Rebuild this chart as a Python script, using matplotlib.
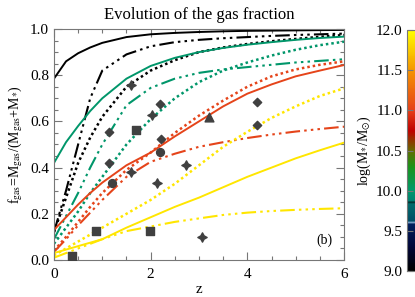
import matplotlib
matplotlib.use("Agg")
import matplotlib.pyplot as plt
import numpy as np
from matplotlib.colors import LinearSegmentedColormap, Normalize
from matplotlib.ticker import MultipleLocator
import matplotlib.cm as cm

plt.rcParams['font.family'] = ['Liberation Serif', 'DejaVu Serif']
plt.rcParams['mathtext.fontset'] = 'stix'

# redshift grid of the model curves
z_curve = [0, 0.25, 0.5, 0.75, 1.0, 1.5, 2.0, 2.5, 3.0, 3.5, 4.0, 4.5, 5.0, 5.5, 6.0]

# log(M*/Msun) = 9
blk_solid = [0.785, 0.86, 0.895, 0.92, 0.94, 0.965, 0.977, 0.983, 0.987, 0.99, 0.992, 0.993, 0.994, 0.995, 0.996]
blk_dd = [0.12, 0.30, 0.50, 0.70, 0.82, 0.89, 0.925, 0.943, 0.953, 0.96, 0.965, 0.97, 0.974, 0.977, 0.98]
blk_dot = [0.12, 0.27, 0.42, 0.53, 0.62, 0.75, 0.82, 0.865, 0.90, 0.92, 0.935, 0.947, 0.957, 0.966, 0.974]
# log = 10
grn_solid = [0.42, 0.51, 0.58, 0.645, 0.70, 0.785, 0.84, 0.875, 0.90, 0.918, 0.932, 0.943, 0.953, 0.961, 0.967]
grn_dd = [0.09, 0.19, 0.29, 0.40, 0.50, 0.67, 0.745, 0.785, 0.81, 0.825, 0.835, 0.845, 0.855, 0.862, 0.869]
grn_dot = [0.07, 0.14, 0.21, 0.29, 0.36, 0.50, 0.61, 0.70, 0.77, 0.82, 0.855, 0.885, 0.91, 0.93, 0.945]
# log = 11
red_solid = [0.13, 0.185, 0.24, 0.29, 0.335, 0.41, 0.465, 0.535, 0.60, 0.665, 0.72, 0.76, 0.795, 0.82, 0.844]
red_dd = [0.035, 0.09, 0.15, 0.205, 0.26, 0.36, 0.425, 0.46, 0.49, 0.51, 0.528, 0.543, 0.556, 0.567, 0.577]
red_dot = [0.04, 0.10, 0.165, 0.23, 0.29, 0.39, 0.465, 0.55, 0.625, 0.69, 0.75, 0.795, 0.825, 0.845, 0.86]
# log = 12
yel_solid = [0.03, 0.045, 0.06, 0.075, 0.09, 0.14, 0.185, 0.23, 0.27, 0.315, 0.36, 0.40, 0.44, 0.475, 0.508]
yel_dd = [0.01, 0.03, 0.05, 0.07, 0.09, 0.125, 0.145, 0.165, 0.18, 0.195, 0.205, 0.212, 0.217, 0.221, 0.224]
yel_dot = [0.02, 0.05, 0.08, 0.11, 0.14, 0.20, 0.26, 0.33, 0.41, 0.49, 0.555, 0.615, 0.665, 0.71, 0.743]

# observations
sq_z = [0.37, 0.87, 1.70, 1.99]
sq_f = [0.017, 0.127, 0.563, 0.127]
ci_z = [1.20, 2.19]
ci_f = [0.332, 0.469]
tri_z = [3.21]
tri_f = [0.618]
dia_z = [1.14, 1.14, 2.19, 2.21, 4.21, 4.21]
dia_f = [0.555, 0.421, 0.675, 0.522, 0.685, 0.584]
star_z = [1.59, 1.59, 2.02, 2.14, 2.73, 3.06]
star_f = [0.757, 0.380, 0.628, 0.332, 0.411, 0.098]

# colour table
nodes = [(9.0, (0, 0, 0)), (9.3, (0.0, 0.02, 0.22)), (9.58, (0.0, 0.12, 0.36)),
         (9.6, (0.45, 0.6, 0.75)), (9.62, (0.0, 0.3, 0.4)), (9.83, (0.0, 0.42, 0.42)),
         (9.85, (0.0, 0.18, 0.18)), (9.87, (0.0, 0.5, 0.45)), (10.0, (0.0, 0.6, 0.42)),
         (10.3, (0.1, 0.58, 0.1)), (10.5, (0.4, 0.42, 0.0)), (10.75, (0.75, 0.0, 0.0)),
         (11.0, (0.9, 0.25, 0.1)), (11.5, (0.96, 0.58, 0.0)), (12.0, (1.0, 1.0, 0.0))]
cmap = LinearSegmentedColormap.from_list('mstar', [((v - 9.0) / 3.0, c) for v, c in nodes])
norm = Normalize(9.0, 12.0)

c_blk = 'black'
c_grn = '#00966A'
c_red = '#E5441A'
c_yel = '#FFE600'

dd = (0, (7, 2, 1.2, 2, 1.2, 2, 1.2, 2))
dot = (0, (1, 1.2))

fig = plt.figure(figsize=(4.15, 2.97), dpi=100)
ax = fig.add_axes([0.130, 0.1246, 0.699, 0.7778])

for col, s, d, o in [(c_blk, blk_solid, blk_dd, blk_dot),
                     (c_grn, grn_solid, grn_dd, grn_dot),
                     (c_red, red_solid, red_dd, red_dot),
                     (c_yel, yel_solid, yel_dd, yel_dot)]:
    ax.plot(z_curve, s, color=col, lw=1.4)
    ax.plot(z_curve, d, color=col, lw=1.5, linestyle=dd)
    ax.plot(z_curve, o, color=col, lw=1.8, linestyle=dot)

mc = '#404040'
ax.scatter(sq_z, sq_f, marker='s', s=30, color=mc, zorder=5)
ax.scatter(ci_z, ci_f, marker='o', s=32, color=mc, zorder=5)
ax.scatter(tri_z, tri_f, marker='^', s=40, color=mc, zorder=5)
ax.scatter(dia_z, dia_f, marker='D', s=18, color=mc, zorder=5)
ax.scatter(star_z, star_f, marker=(4, 1, 0), s=45, color=mc, zorder=5)

ax.set_xlim(0, 6)
ax.set_ylim(0, 1.0)
ax.xaxis.set_major_locator(MultipleLocator(2))
ax.xaxis.set_minor_locator(MultipleLocator(0.5))
ax.yaxis.set_major_locator(MultipleLocator(0.2))
ax.yaxis.set_minor_locator(MultipleLocator(0.05))
ax.yaxis.set_major_formatter(plt.FormatStrFormatter('%.1f'))
ax.tick_params(which='both', direction='in', top=True, right=True, labelsize=11,
               color='#777777', width=0.8)
ax.tick_params(which='major', length=6)
ax.tick_params(which='minor', length=3)
ax.tick_params(axis='x', pad=6)
for sp in ax.spines.values():
    sp.set_color('#777777')
    sp.set_linewidth(0.8)

ax.set_title('Evolution of the gas fraction', fontsize=12, pad=7)
ax.set_xlabel('z', fontsize=11, labelpad=1)
ax.set_ylabel(r'f$_{\rm gas}$=M$_{\rm gas}$/(M$_{\rm gas}$+M$_{*}$)', fontsize=10, labelpad=4)
ax.text(5.6, 0.085, '(b)', fontsize=10, ha='center', va='center')

cax = fig.add_axes([0.981, 0.0875, 0.04, 0.811])
cb = fig.colorbar(cm.ScalarMappable(norm=norm, cmap=cmap), cax=cax)
cb.set_ticks([9.0, 9.5, 10.0, 10.5, 11.0, 11.5, 12.0])
cb.ax.yaxis.set_major_formatter(plt.FormatStrFormatter('%.1f'))
cb.ax.yaxis.set_ticks_position('left')
cb.ax.yaxis.set_label_position('left')
cb.ax.tick_params(labelsize=11, direction='in', length=4, color='#777777')
cb.outline.set_edgecolor('#777777')
cb.set_label(r'log(M$_{*}$/M$_{\odot}$)', fontsize=10, labelpad=2)

fig.savefig('out.png', dpi=100)
